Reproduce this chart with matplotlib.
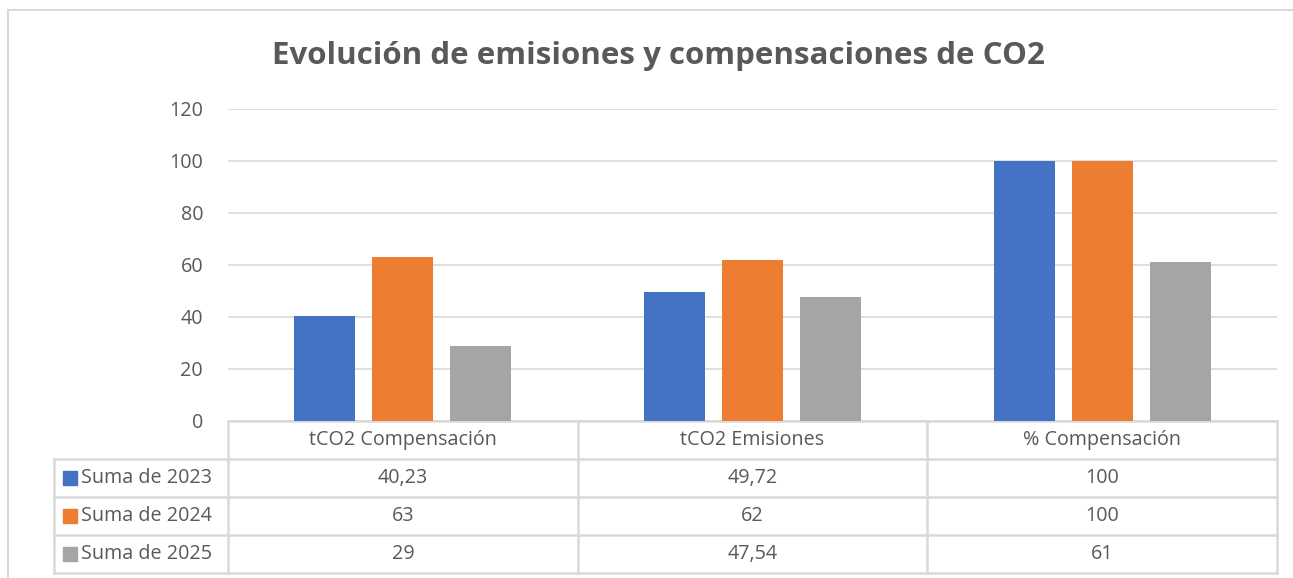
import matplotlib.pyplot as plt
from matplotlib.patches import Rectangle
import matplotlib.transforms as mtransforms

categories = ["tCO2 Compensación", "tCO2 Emisiones", "% Compensación"]
series_names = ["Suma de 2023", "Suma de 2024", "Suma de 2025"]
v2023 = [40.23, 49.72, 100]
v2024 = [63, 62, 100]
v2025 = [29, 47.54, 61]
labels2023 = ["40,23", "49,72", "100"]
labels2024 = ["63", "62", "100"]
labels2025 = ["29", "47,54", "61"]
yticks = [0, 20, 40, 60, 80, 100, 120]

colors = ["#4472C4", "#ED7D31", "#A5A5A5"]
text_col = "#595959"
grid_col = "#D9D9D9"

plt.rcParams["font.family"] = ["Open Sans", "DejaVu Sans"]

W, H = 1293, 578
fig = plt.figure(figsize=(W / 100, H / 100), dpi=100)
ax = fig.add_axes([228 / W, (H - 421) / H, (1277 - 228) / W, (421 - 109) / H])

series = [v2023, v2024, v2025]
series_labels = [labels2023, labels2024, labels2025]
width = 0.174
step = 0.223
x = list(range(len(categories)))
for i, vals in enumerate(series):
    ax.bar([xi + (i - 1) * step for xi in x], vals, width=width, color=colors[i], zorder=3)

fs = 14.2
ax.set_xlim(-0.5, len(categories) - 0.5)
ax.set_ylim(0, 120)
ax.set_yticks(yticks)
ax.set_yticklabels([str(t) for t in yticks], fontsize=fs, color=text_col)
ax.tick_params(axis="y", length=0, pad=18)
ax.set_xticks([])
ax.grid(axis="y", color=grid_col, linewidth=1.2, zorder=0)
for s in ax.spines.values():
    s.set_visible(False)

# data table below the plot
rh = 38 / (421 - 109)
trans = mtransforms.blended_transform_factory(ax.transData, ax.transAxes)
lkw = dict(color=grid_col, linewidth=1.8, clip_on=False, zorder=1)
xl = -0.5 - (228 - 54) / (1277 - 228) * 3
nrows = len(series) + 1
# horizontal lines
ax.plot([-0.5, 2.5], [0, 0], transform=trans, **lkw)
for r in range(1, nrows + 1):
    ax.plot([xl, 2.5], [-r * rh, -r * rh], transform=trans, **lkw)
# vertical lines
for c in range(len(categories) + 1):
    ax.plot([c - 0.5, c - 0.5], [0, -nrows * rh], transform=trans, **lkw)
ax.plot([xl, xl], [-rh, -nrows * rh], transform=trans, **lkw)

for c, cat in enumerate(categories):
    ax.text(c, -0.5 * rh, cat, transform=trans, ha="center", va="center",
            fontsize=fs, color=text_col)
for r in range(len(series)):
    yc = -(r + 1.5) * rh
    for c in range(len(categories)):
        ax.text(c, yc, series_labels[r][c], transform=trans, ha="center", va="center",
                fontsize=fs, color=text_col)
    ax.add_patch(Rectangle((xl + 0.026, yc - 0.022), 0.04, 0.044, transform=trans,
                           color=colors[r], clip_on=False))
    ax.text(xl + 0.078, yc, series_names[r], transform=trans, ha="left", va="center",
            fontsize=fs, color=text_col)

# outer frame
fig.add_artist(plt.Line2D([8 / W, 1], [1 - 10 / H, 1 - 10 / H], color=grid_col, linewidth=1.5))
fig.add_artist(plt.Line2D([8 / W, 8 / W], [0, 1 - 10 / H], color=grid_col, linewidth=1.5))

fig.text(658 / W, 1 - 56 / H, "Evolución de emisiones y compensaciones de CO2",
         ha="center", va="center", fontsize=22.5, fontweight="bold", color=text_col)

fig.savefig("out.png", dpi=100)
